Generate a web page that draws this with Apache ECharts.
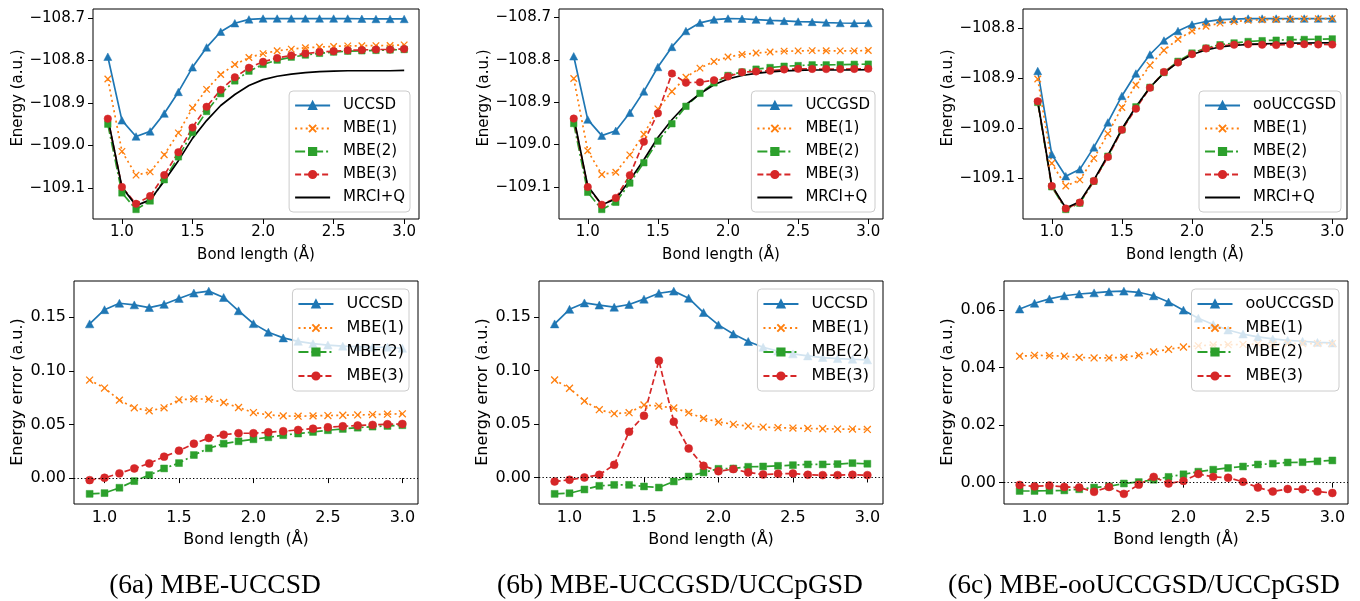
<!DOCTYPE html>
<html>
<head>
<meta charset="utf-8">
<script src="https://cdn.jsdelivr.net/npm/echarts@6/dist/echarts.min.js"></script>
<style>
  html, body { margin: 0; padding: 0; background: #ffffff; }
  #chart { width: 1360px; height: 601px; }
</style>
</head>
<body>
<div id="chart"></div>
<script>
// Bond length grid (Å)
const bondLength = [0.9, 1.0, 1.1, 1.2, 1.3, 1.4, 1.5, 1.6, 1.7, 1.8, 1.9, 2.0, 2.1, 2.2, 2.3, 2.4, 2.5, 2.6, 2.7, 2.8, 2.9, 3.0];

// Reference energies (a.u.)
const mrciQ = [-108.935, -109.098, -109.142, -109.1285, -109.084, -109.036, -108.9835, -108.9415, -108.906, -108.880, -108.859, -108.845, -108.837, -108.832, -108.8285, -108.826, -108.825, -108.824, -108.824, -108.824, -108.824, -108.823];
const mrciQ_c = [-108.946, -109.115, -109.1605, -109.148, -109.1045, -109.055, -109.0023, -108.9575, -108.919, -108.890, -108.8687, -108.853, -108.844, -108.838, -108.835, -108.8326, -108.8316, -108.831, -108.8304, -108.830, -108.8297, -108.8295];

// (6a) MBE-UCCSD energies
const uccsd_E_a = [-108.791, -108.941, -108.979, -108.967, -108.925, -108.874, -108.816, -108.769, -108.732, -108.712, -108.703, -108.701, -108.701, -108.701, -108.701, -108.701, -108.701, -108.701, -108.7015, -108.702, -108.702, -108.702];
const mbe1_E_a = [-108.8436, -109.0141, -109.070, -109.0625, -109.022, -108.9705, -108.912, -108.868, -108.8327, -108.8095, -108.793, -108.7837, -108.777, -108.773, -108.770, -108.768, -108.7667, -108.7654, -108.7651, -108.7648, -108.7644, -108.7631];
const mbe2_E_a = [-108.950, -109.112, -109.151, -109.131, -109.081, -109.027, -108.9695, -108.920, -108.878, -108.848, -108.825, -108.809, -108.799, -108.792, -108.787, -108.783, -108.780, -108.778, -108.777, -108.776, -108.775, -108.774];
const mbe3_E_a = [-108.937, -109.098, -109.1376, -109.1195, -109.070, -109.016, -108.958, -108.909, -108.869, -108.8395, -108.817, -108.803, -108.794, -108.788, -108.7836, -108.780, -108.778, -108.776, -108.775, -108.774, -108.774, -108.7725];

// (6b) MBE-UCCGSD/UCCpGSD energies
const uccgsd_E_b = [-108.7916, -108.941, -108.979, -108.9675, -108.925, -108.8745, -108.817, -108.7695, -108.732, -108.7126, -108.705, -108.7025, -108.703, -108.705, -108.707, -108.708, -108.7096, -108.7105, -108.712, -108.713, -108.7136, -108.7132];
const mbe1_E_b = [-108.844, -109.0147, -109.0706, -109.0652, -109.0244, -108.9755, -108.9158, -108.8748, -108.8411, -108.8195, -108.8038, -108.7932, -108.7874, -108.784, -108.7814, -108.7795, -108.7789, -108.7782, -108.7785, -108.7788, -108.7788, -108.7781];
const mbe2_E_b = [-108.9503, -109.1127, -109.1532, -109.1363, -109.0909, -109.0429, -108.9919, -108.9509, -108.9097, -108.8791, -108.8543, -108.8369, -108.8286, -108.822, -108.8182, -108.8151, -108.8135, -108.8118, -108.8118, -108.8115, -108.8106, -108.8102];
const mbe3_E_b = [-108.9387, -109.1002, -109.142, -109.126, -109.0722, -108.9933, -108.9258, -108.8324, -108.8539, -108.8529, -108.8481, -108.8391, -108.8292, -108.8273, -108.8257, -108.8226, -108.8213, -108.8215, -108.8218, -108.8218, -108.8215, -108.8208];

// (6c) MBE-ooUCCGSD/UCCpGSD energies
const oouccgsd_E_c = [-108.886, -109.053, -109.0967, -109.083, -109.039, -108.989, -108.936, -108.891, -108.853, -108.825, -108.806, -108.793, -108.787, -108.783, -108.782, -108.781, -108.781, -108.781, -108.781, -108.781, -108.781, -108.781];
const mbe1_E_c = [-108.9021, -109.0708, -109.1164, -109.1041, -109.061, -109.0117, -108.959, -108.914, -108.8748, -108.8446, -108.8224, -108.8059, -108.7965, -108.7902, -108.7871, -108.7846, -108.7834, -108.7828, -108.7821, -108.7817, -108.7814, -108.7812];
const mbe2_E_c = [-108.9489, -109.1179, -109.1633, -109.1507, -109.1068, -109.0567, -109.0036, -108.9578, -108.9188, -108.889, -108.8667, -108.8501, -108.8402, -108.8335, -108.8299, -108.827, -108.8253, -108.8244, -108.8234, -108.8229, -108.8223, -108.8218];
const mbe3_E_c = [-108.9468, -109.1163, -109.1615, -109.1495, -109.1062, -109.0582, -109.0038, -108.9614, -108.9197, -108.888, -108.869, -108.8524, -108.841, -108.836, -108.8333, -108.8323, -108.8333, -108.8341, -108.8326, -108.8323, -108.8328, -108.8331];

// Energy errors relative to MRCI+Q (a.u.)
const uccsd_err_a = [0.1438, 0.157, 0.163, 0.1615, 0.159, 0.162, 0.1675, 0.1725, 0.1743, 0.1684, 0.156, 0.144, 0.136, 0.1307, 0.1275, 0.1253, 0.124, 0.123, 0.1225, 0.122, 0.122, 0.121];
const mbe1_err_a = [0.0914, 0.0839, 0.0727, 0.0655, 0.0627, 0.0655, 0.073, 0.0739, 0.0736, 0.0705, 0.0658, 0.0611, 0.0589, 0.058, 0.0577, 0.058, 0.0583, 0.0586, 0.0589, 0.0592, 0.0596, 0.0599];
const mbe2_err_a = [-0.0147, -0.014, -0.009, -0.0028, 0.0028, 0.009, 0.014, 0.0215, 0.0278, 0.0321, 0.0343, 0.0362, 0.038, 0.040, 0.0415, 0.043, 0.0446, 0.0458, 0.047, 0.048, 0.0486, 0.0493];
const mbe3_err_a = [-0.0019, 0.0003, 0.0044, 0.009, 0.0137, 0.020, 0.0256, 0.0321, 0.0374, 0.0405, 0.0418, 0.0418, 0.0427, 0.0437, 0.0449, 0.0461, 0.0474, 0.0483, 0.049, 0.0496, 0.0502, 0.0505];

const uccgsd_err_b = [0.1434, 0.157, 0.163, 0.161, 0.159, 0.1615, 0.1665, 0.172, 0.174, 0.1674, 0.154, 0.1425, 0.134, 0.127, 0.1216, 0.118, 0.1154, 0.1135, 0.112, 0.111, 0.1104, 0.1098];
const mbe1_err_b = [0.091, 0.0833, 0.0714, 0.0633, 0.0596, 0.0605, 0.0677, 0.0667, 0.0649, 0.0605, 0.0552, 0.0518, 0.0496, 0.048, 0.0471, 0.0465, 0.0461, 0.0458, 0.0455, 0.0452, 0.0452, 0.0449];
const mbe2_err_b = [-0.0153, -0.0147, -0.0112, -0.0078, -0.0069, -0.0069, -0.0084, -0.0094, -0.0037, 0.0009, 0.0047, 0.0081, 0.0084, 0.010, 0.0103, 0.0109, 0.0115, 0.0122, 0.0122, 0.0125, 0.0134, 0.0128];
const mbe3_err_b = [-0.0037, -0.0022, 0.0, 0.0025, 0.0118, 0.0427, 0.0577, 0.1091, 0.0521, 0.0271, 0.0109, 0.0059, 0.0078, 0.0047, 0.0028, 0.0034, 0.0037, 0.0025, 0.0022, 0.0022, 0.0025, 0.0022];

const oouccgsd_err_c = [0.0603, 0.0623, 0.0638, 0.0649, 0.0655, 0.0659, 0.0663, 0.0665, 0.0661, 0.0649, 0.0627, 0.0599, 0.0571, 0.0549, 0.053, 0.0516, 0.0506, 0.0499, 0.0494, 0.0491, 0.0487, 0.0485];
const mbe1_err_c = [0.0439, 0.0442, 0.0441, 0.0439, 0.0435, 0.0433, 0.0433, 0.0435, 0.0442, 0.0454, 0.0463, 0.0471, 0.0475, 0.0478, 0.0479, 0.048, 0.0482, 0.0482, 0.0483, 0.0483, 0.0483, 0.0483];
const mbe2_err_c = [-0.0029, -0.0029, -0.0028, -0.0027, -0.0023, -0.0017, -0.0013, -0.0003, 0.0002, 0.001, 0.002, 0.0029, 0.0038, 0.0045, 0.0051, 0.0056, 0.0063, 0.0066, 0.007, 0.0071, 0.0074, 0.0077];
const mbe3_err_c = [-0.0008, -0.0013, -0.001, -0.0015, -0.0017, -0.0032, -0.0015, -0.0039, -0.0007, 0.002, -0.0003, 0.0006, 0.003, 0.002, 0.0017, 0.0003, -0.0017, -0.0031, -0.0022, -0.0023, -0.0031, -0.0036];

// Tick positions
const xTicks = [1.0, 1.5, 2.0, 2.5, 3.0];
const energyTicks = [-109.1, -109.0, -108.9, -108.8, -108.7];
const energyTicks_c = [-109.1, -109.0, -108.9, -108.8];
const errorTicks = [0.00, 0.05, 0.10, 0.15];
const errorTicks_c = [0.00, 0.02, 0.04, 0.06];

// Text
const captions = ['(6a) MBE-UCCSD', '(6b) MBE-UCCGSD/UCCpGSD', '(6c) MBE-ooUCCGSD/UCCpGSD'];
const xName = 'Bond length (Å)';
const yNameEnergy = 'Energy (a.u.)';
const yNameError = 'Energy error (a.u.)';

const SANS = 'DejaVu Sans';
const SERIF = 'Liberation Serif';

// Axis limits padded by 5% of the data span on both sides
function padded(arrays) {
  let lo = Infinity, hi = -Infinity;
  arrays.forEach(a => a.forEach(v => { lo = Math.min(lo, v); hi = Math.max(hi, v); }));
  const m = 0.05 * (hi - lo);
  return [lo - m, hi + m];
}
const xLim = padded([bondLength]);

function fmt(d) {
  return v => {
    let s = Number(v).toFixed(d);
    if (parseFloat(s) === 0) s = (0).toFixed(d);
    return s.replace('-', '\u2212');
  };
}

// Panel frames: [left, top, width, height, fontSize]
const panels = [
  [93, 9, 326, 210, 15],
  [559, 9, 324, 210, 15],
  [1023, 9, 324, 210, 15],
  [74, 281, 344, 223, 16],
  [539, 281, 344, 223, 16],
  [1004, 281, 344, 223, 16]
];

const yLims = [
  padded([uccsd_E_a, mbe1_E_a, mbe2_E_a, mbe3_E_a, mrciQ]),
  padded([uccgsd_E_b, mbe1_E_b, mbe2_E_b, mbe3_E_b, mrciQ]),
  padded([oouccgsd_E_c, mbe1_E_c, mbe2_E_c, mbe3_E_c, mrciQ_c]),
  padded([uccsd_err_a, mbe1_err_a, mbe2_err_a, mbe3_err_a]),
  padded([uccgsd_err_b, mbe1_err_b, mbe2_err_b, mbe3_err_b]),
  padded([oouccgsd_err_c, mbe1_err_c, mbe2_err_c, mbe3_err_c])
];
const yTicks = [energyTicks, energyTicks, energyTicks_c, errorTicks, errorTicks, errorTicks_c];
const yDecimals = [1, 1, 1, 2, 2, 2];

const grids = panels.map(p => ({
  left: p[0], top: p[1], width: p[2], height: p[3],
  show: true, borderColor: '#000', borderWidth: 1, backgroundColor: 'transparent',
  containLabel: false
}));

const xAxes = panels.map((p, i) => ({
  type: 'value', gridIndex: i, min: xLim[0], max: xLim[1],
  axisLine: { show: false }, splitLine: { show: false },
  axisTick: { show: true, length: 5, lineStyle: { color: '#000', width: 1 }, customValues: xTicks },
  axisLabel: { customValues: xTicks, formatter: fmt(1), color: '#000', fontSize: p[4], fontFamily: SANS, margin: 6 }
}));

const yAxes = panels.map((p, i) => ({
  type: 'value', gridIndex: i, min: yLims[i][0], max: yLims[i][1],
  axisLine: { show: false }, splitLine: { show: false },
  axisTick: { show: true, length: 5, lineStyle: { color: '#000', width: 1 }, customValues: yTicks[i] },
  axisLabel: { customValues: yTicks[i], formatter: fmt(yDecimals[i]), color: '#000', fontSize: p[4], fontFamily: SANS, margin: 8 }
}));

// Line/marker styles per method
const STYLES = {
  cc:  { color: '#1f77b4', dash: 'solid', symbol: 'triangle', size: [8, 7.5] },
  m1:  { color: '#ff7f0e', dash: [2, 3.3], symbol: 'path://M0,0L10,10M0,10L10,0', size: 6.5, stroke: 1.3 },
  m2:  { color: '#2ca02c', dash: [10, 3, 2, 3], symbol: 'rect', size: 6.5 },
  m3:  { color: '#d62728', dash: [6, 3], symbol: 'circle', size: 7.5 },
  ref: { color: '#000000', dash: 'solid', symbol: 'none', size: 0 }
};

function line(name, gi, ys, key) {
  const st = STYLES[key];
  const k = gi >= 3 ? 1.06 : 1;
  const size = Array.isArray(st.size) ? st.size.map(s => s * k) : st.size * k;
  return {
    type: 'line', name, xAxisIndex: gi, yAxisIndex: gi,
    data: bondLength.map((x, i) => [x, ys[i]]),
    showAllSymbol: true, symbol: st.symbol, symbolSize: size,
    lineStyle: { color: st.color, width: 1.7, type: st.dash, cap: 'butt' },
    itemStyle: st.stroke
      ? { color: st.color, borderColor: st.color, borderWidth: st.stroke }
      : { color: st.color, borderColor: st.color, borderWidth: 0.5 },
    emphasis: { disabled: true },
    animation: false
  };
}

function zeroLine(gi) {
  return {
    type: 'line', name: 'zero', xAxisIndex: gi, yAxisIndex: gi, data: [],
    symbol: 'none',
    markLine: {
      silent: true, symbol: 'none', label: { show: false },
      lineStyle: { color: '#000', width: 1.2, type: [1.3, 2.2] },
      emphasis: { disabled: true },
      data: [{ yAxis: 0 }]
    },
    animation: false
  };
}

const series = [
  line('UCCSD', 0, uccsd_E_a, 'cc'),
  line('MBE(1)', 0, mbe1_E_a, 'm1'),
  line('MBE(2)', 0, mbe2_E_a, 'm2'),
  line('MBE(3)', 0, mbe3_E_a, 'm3'),
  line('MRCI+Q', 0, mrciQ, 'ref'),

  line('UCCGSD', 1, uccgsd_E_b, 'cc'),
  line('MBE(1)', 1, mbe1_E_b, 'm1'),
  line('MBE(2)', 1, mbe2_E_b, 'm2'),
  line('MBE(3)', 1, mbe3_E_b, 'm3'),
  line('MRCI+Q', 1, mrciQ, 'ref'),

  line('ooUCCGSD', 2, oouccgsd_E_c, 'cc'),
  line('MBE(1)', 2, mbe1_E_c, 'm1'),
  line('MBE(2)', 2, mbe2_E_c, 'm2'),
  line('MBE(3)', 2, mbe3_E_c, 'm3'),
  line('MRCI+Q', 2, mrciQ_c, 'ref'),

  zeroLine(3),
  line('UCCSD', 3, uccsd_err_a, 'cc'),
  line('MBE(1)', 3, mbe1_err_a, 'm1'),
  line('MBE(2)', 3, mbe2_err_a, 'm2'),
  line('MBE(3)', 3, mbe3_err_a, 'm3'),

  zeroLine(4),
  line('UCCSD', 4, uccgsd_err_b, 'cc'),
  line('MBE(1)', 4, mbe1_err_b, 'm1'),
  line('MBE(2)', 4, mbe2_err_b, 'm2'),
  line('MBE(3)', 4, mbe3_err_b, 'm3'),

  zeroLine(5),
  line('ooUCCGSD', 5, oouccgsd_err_c, 'cc'),
  line('MBE(1)', 5, mbe1_err_c, 'm1'),
  line('MBE(2)', 5, mbe2_err_c, 'm2'),
  line('MBE(3)', 5, mbe3_err_c, 'm3')
];

// The reference line has no markers, so its legend entry shows the line only
const refEntry = { name: 'MRCI+Q', itemStyle: { opacity: 0 } };

function legend(names, pos, fs, gap) {
  return Object.assign({
    orient: 'vertical', data: names, selectedMode: false,
    itemWidth: 35, itemHeight: 9, itemGap: gap,
    textStyle: { fontSize: fs, fontFamily: SANS, color: '#000', padding: [0, 0, 0, 8] },
    backgroundColor: 'rgba(255,255,255,0.8)', borderColor: '#cccccc', borderWidth: 1, borderRadius: 4,
    padding: [7, 5, 7, 5]
  }, pos);
}

const legends = [
  legend(['UCCSD', 'MBE(1)', 'MBE(2)', 'MBE(3)', refEntry], { right: 950, bottom: 389 }, 15, 8),
  legend(['UCCGSD', 'MBE(1)', 'MBE(2)', 'MBE(3)', refEntry], { right: 485, bottom: 389 }, 15, 8),
  legend(['ooUCCGSD', 'MBE(1)', 'MBE(2)', 'MBE(3)', refEntry], { right: 19, bottom: 389 }, 15, 8),
  legend(['UCCSD', 'MBE(1)', 'MBE(2)', 'MBE(3)'], { right: 951, top: 289 }, 16, 8),
  legend(['UCCSD', 'MBE(1)', 'MBE(2)', 'MBE(3)'], { right: 486, top: 289 }, 16, 8),
  legend(['ooUCCGSD', 'MBE(1)', 'MBE(2)', 'MBE(3)'], { right: 21, top: 289 }, 16, 8)
];

function label(text, x, y, fs, family, rotate) {
  return {
    type: 'text', x, y, rotation: rotate ? Math.PI / 2 : 0, silent: true,
    style: { text, fontSize: fs, fontFamily: family, fill: '#000', align: 'center', verticalAlign: 'middle' }
  };
}

const graphics = [
  label(yNameEnergy, 18, 98, 15, SANS, true),
  label(yNameEnergy, 484, 98, 15, SANS, true),
  label(yNameEnergy, 948, 98, 15, SANS, true),
  label(yNameError, 18, 392, 16, SANS, true),
  label(yNameError, 483, 392, 16, SANS, true),
  label(yNameError, 948, 392, 16, SANS, true),
  label(xName, 256, 255, 15, SANS, false),
  label(xName, 721, 255, 15, SANS, false),
  label(xName, 1185, 255, 15, SANS, false),
  label(xName, 246, 540, 16, SANS, false),
  label(xName, 711, 540, 16, SANS, false),
  label(xName, 1176, 540, 16, SANS, false),
  label(captions[0], 215, 586, 27.5, SERIF, false),
  label(captions[1], 680, 586, 27.5, SERIF, false),
  label(captions[2], 1144, 586, 27.5, SERIF, false)
];

const chart = echarts.init(document.getElementById('chart'), null, { renderer: 'canvas' });
chart.setOption({
  animation: false,
  backgroundColor: '#ffffff',
  grid: grids,
  xAxis: xAxes,
  yAxis: yAxes,
  legend: legends,
  series,
  graphic: graphics
});
</script>
</body>
</html>
